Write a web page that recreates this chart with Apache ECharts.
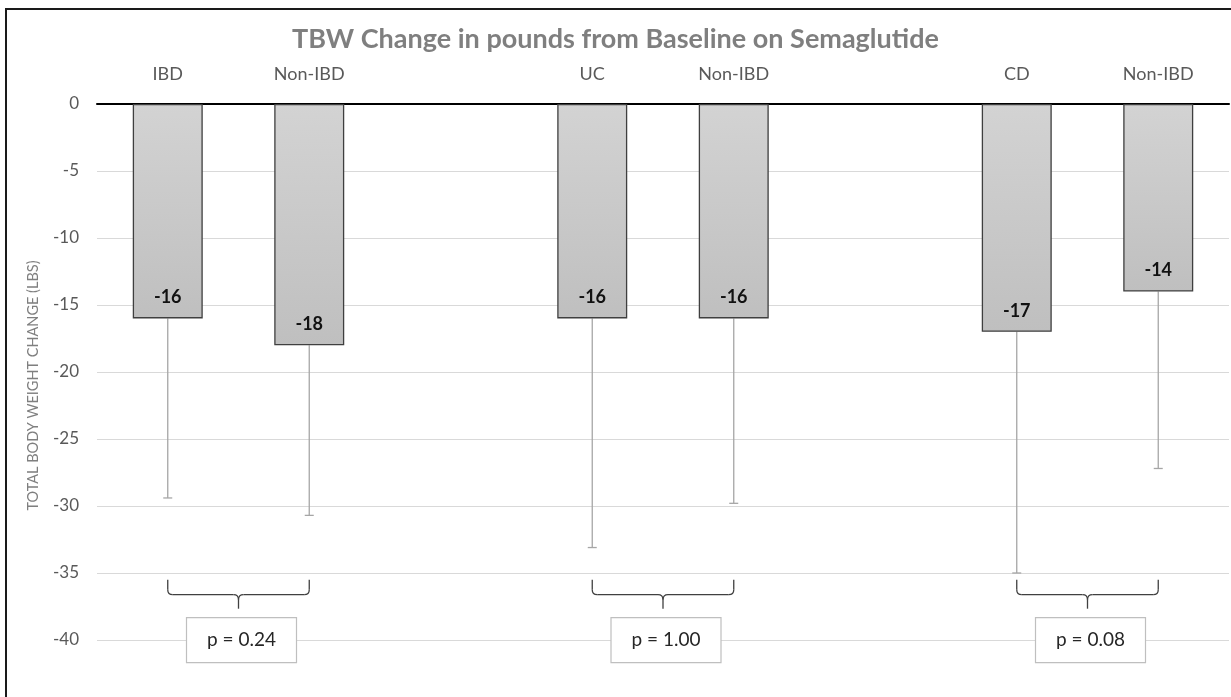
<!DOCTYPE html>
<html>
<head>
<meta charset="utf-8">
<title>TBW Change in pounds from Baseline on Semaglutide</title>
<script src="https://cdn.jsdelivr.net/npm/echarts@6/dist/echarts.min.js"></script>
<style>
  html, body { margin: 0; padding: 0; background: #ffffff; }
  #chart { width: 1231px; height: 697px; }
</style>
</head>
<body>
<div id="chart"></div>
<script>
// Group labels along the top axis; blank slots separate the three comparisons
const categories = ['IBD', 'Non-IBD', '', 'UC', 'Non-IBD', '', 'CD', 'Non-IBD'];
// Mean total body weight change (lbs)
const meanChange = [-16, -18, null, -16, -16, null, -17, -14];
// Standard deviation, drawn downward from the mean
const sdChange = [13.4, 12.7, null, 17.1, 13.8, null, 18.0, 13.2];
// Pairwise comparisons: [first category, second category]
const comparisonPairs = [[0, 1], [3, 4], [6, 7]];
const pValueLabels = ['p = 0.24', 'p = 1.00', 'p = 0.08'];
// Value level where each bracket starts
const bracketLevel = -35.5;
// Y-axis ticks
const yMin = -45, yMax = 0, yStep = 5;

const FONT = 'Lato, "Liberation Sans", sans-serif';

const chart = echarts.init(document.getElementById('chart'), null, { renderer: 'canvas' });

const barData = meanChange.map(v => (v === null ? '-' : v));
const errorData = [];
meanChange.forEach((v, i) => {
  if (v !== null) errorData.push([i, v, v - sdChange[i]]);
});
const bracketData = comparisonPairs.map((p, k) => [p[0], p[1], bracketLevel, k]);

function renderErrorBar(params, api) {
  const top = api.coord([api.value(0), api.value(1)]);
  const bottom = api.coord([api.value(0), api.value(2)]);
  const half = 4.5;
  const style = { stroke: '#a6a6a6', lineWidth: 1.3 };
  return {
    type: 'group',
    children: [
      { type: 'line', shape: { x1: top[0], y1: top[1], x2: bottom[0], y2: bottom[1] }, style },
      { type: 'line', shape: { x1: bottom[0] - half, y1: bottom[1], x2: bottom[0] + half, y2: bottom[1] }, style }
    ]
  };
}

function renderBracket(params, api) {
  const level = api.value(2);
  const left = api.coord([api.value(0), level]);
  const right = api.coord([api.value(1), level]);
  const xl = left[0], xr = right[0], y0 = left[1];
  const xc = (xl + xr) / 2;
  const y1 = y0 + 15;   // horizontal run
  const y2 = y1 + 14;   // tip
  const r = 5;
  const s = { stroke: '#404040', lineWidth: 1.3, fill: null };
  const label = pValueLabels[api.value(3)];
  const boxW = 110, boxH = 45, boxTop = y2 + 9;
  return {
    type: 'group',
    children: [
      { type: 'line', shape: { x1: xl, y1: y0, x2: xl, y2: y1 - r }, style: s },
      { type: 'bezierCurve', shape: { x1: xl, y1: y1 - r, cpx1: xl, cpy1: y1, x2: xl + r, y2: y1 }, style: s },
      { type: 'line', shape: { x1: xl + r, y1: y1, x2: xc - r, y2: y1 }, style: s },
      { type: 'bezierCurve', shape: { x1: xc - r, y1: y1, cpx1: xc, cpy1: y1, x2: xc, y2: y1 + r }, style: s },
      { type: 'bezierCurve', shape: { x1: xc + r, y1: y1, cpx1: xc, cpy1: y1, x2: xc, y2: y1 + r }, style: s },
      { type: 'line', shape: { x1: xc, y1: y1 + r, x2: xc, y2: y2 }, style: s },
      { type: 'line', shape: { x1: xc + r, y1: y1, x2: xr - r, y2: y1 }, style: s },
      { type: 'bezierCurve', shape: { x1: xr - r, y1: y1, cpx1: xr, cpy1: y1, x2: xr, y2: y1 - r }, style: s },
      { type: 'line', shape: { x1: xr, y1: y1 - r, x2: xr, y2: y0 }, style: s },
      {
        type: 'rect',
        shape: { x: xc - boxW / 2 + 3, y: boxTop, width: boxW, height: boxH },
        style: { fill: '#ffffff', stroke: '#bfbfbf', lineWidth: 1.2 }
      },
      {
        type: 'text',
        style: {
          x: xc + 3, y: boxTop + boxH / 2, text: label,
          align: 'center', verticalAlign: 'middle',
          fill: '#262626', font: '19px ' + FONT
        }
      }
    ]
  };
}

const option = {
  backgroundColor: '#ffffff',
  animation: false,
  title: {
    text: 'TBW Change in pounds from Baseline on Semaglutide',
    left: 'center',
    top: 21,
    textStyle: { fontFamily: FONT, fontWeight: 'bold', fontSize: 27, color: '#7f7f7f' }
  },
  graphic: [
    {
      type: 'rect', z: -10, silent: true,
      shape: { x: 6, y: 9, width: 1400, height: 1000 },
      style: { fill: null, stroke: '#1a1a1a', lineWidth: 2 }
    }
  ],
  grid: {
    left: 97, top: 104, width: 1132, height: 603,
    containLabel: false,
    outerBoundsMode: 'none'
  },
  xAxis: {
    type: 'category',
    data: categories,
    position: 'top',
    axisLine: { show: true, onZero: false, lineStyle: { color: '#000000', width: 2 } },
    axisTick: { show: false },
    axisLabel: { margin: 21, fontFamily: FONT, fontSize: 18, color: '#595959', interval: 0 },
    splitLine: { show: false }
  },
  yAxis: {
    type: 'value',
    min: yMin, max: yMax, interval: yStep,
    name: 'TOTAL BODY WEIGHT CHANGE (LBS)',
    nameLocation: 'middle',
    nameGap: 56,
    nameTextStyle: { fontFamily: FONT, fontSize: 14.5, color: '#7f7f7f', padding: [0, 0, 0, 40] },
    axisLine: { show: false },
    axisTick: { show: false },
    axisLabel: { margin: 18, fontFamily: FONT, fontSize: 17, color: '#595959' },
    splitLine: { show: true, lineStyle: { color: '#d9d9d9', width: 1 } }
  },
  series: [
    {
      type: 'bar',
      data: barData,
      barWidth: 70,
      itemStyle: {
        color: new echarts.graphic.LinearGradient(0, 0, 0, 1, [
          { offset: 0, color: '#d3d3d3' },
          { offset: 1, color: '#bfbfbf' }
        ]),
        borderColor: '#3f3f3f',
        borderWidth: 1.3
      },
      label: {
        show: true,
        position: 'insideBottom',
        distance: 12,
        fontFamily: FONT,
        fontWeight: 'bold',
        fontSize: 18,
        color: '#111111'
      },
      z: 3
    },
    {
      type: 'custom',
      renderItem: renderErrorBar,
      data: errorData,
      encode: { x: 0, y: [1, 2] },
      z: 2
    },
    {
      type: 'custom',
      renderItem: renderBracket,
      data: bracketData,
      encode: { x: [0, 1], y: 2 },
      z: 4
    }
  ]
};

chart.setOption(option);
</script>
</body>
</html>
